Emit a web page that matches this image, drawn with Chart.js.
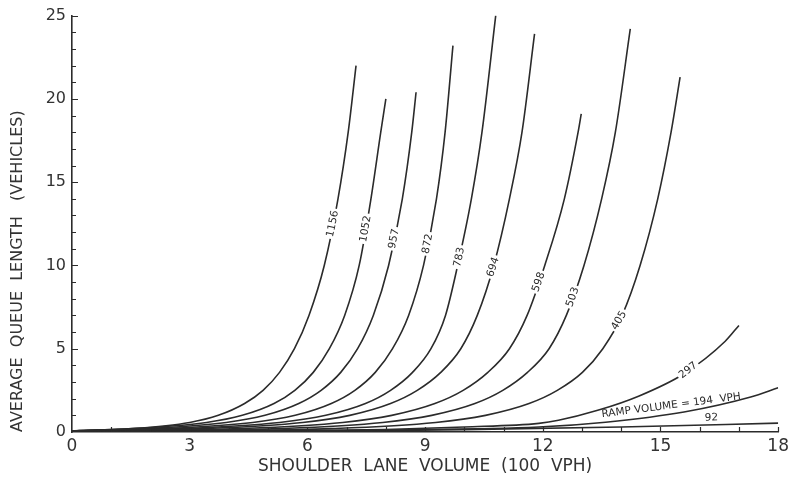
<!DOCTYPE html>
<html>
<head>
<meta charset="utf-8">
<script src="https://cdn.jsdelivr.net/npm/chart.js@4.4.1/dist/chart.umd.min.js"></script>
<style>
  html, body { margin: 0; padding: 0; background: #fff; }
  #wrap { width: 793px; height: 484px; }
</style>
</head>
<body>
<div id="wrap"><canvas id="queueChart" width="793" height="484"></canvas></div>
<script>
// shoulder lane volume (100 vph) vs average queue length (vehicles), one curve per ramp volume
const xTicks = [0, 3, 6, 9, 12, 15, 18];
const yTicks = [0, 5, 10, 15, 20, 25];
const rampVolumes = ['1156', '1052', '957', '872', '783', '694', '598', '503', '405', '297', '194', '92'];

// [shoulder lane volume, queue length]
const q1156 = [[0,0.07],[0.2,0.08],[1.55,0.2],[3.0,0.57],[3.73,1.0],[4.4,1.71],[4.87,2.5],[5.29,3.58],[5.67,5],[6.04,7],[6.43,10],[6.78,14],[7.04,18],[7.24,22]];
const q1052 = [[0,0.06],[1.54,0.2],[3.43,0.57],[4.34,1.0],[5.15,1.71],[5.68,2.5],[6.15,3.58],[6.56,5],[6.95,7],[7.32,10],[7.62,14],[7.87,18],[8.0,20]];
const q957  = [[0,0.06],[1.86,0.2],[3.93,0.57],[4.92,1.0],[5.78,1.71],[6.35,2.5],[6.85,3.58],[7.28,5],[7.68,7],[8.07,10],[8.42,14],[8.66,18],[8.77,20.4]];
const q872  = [[0,0.06],[2.31,0.2],[4.61,0.57],[5.69,1.0],[6.61,1.71],[7.21,2.5],[7.73,3.58],[8.17,5],[8.58,7],[8.96,10],[9.29,14],[9.51,18],[9.71,23.2]];
const q783  = [[0,0.05],[0.18,0.08],[2.76,0.2],[5.29,0.57],[6.47,1.0],[7.48,1.71],[8.12,2.5],[8.68,3.58],[9.15,5],[9.52,7],[9.83,10],[10.18,14],[10.45,18],[10.8,25]];
const q694  = [[0,0.05],[0.81,0.08],[3.34,0.2],[5.88,0.57],[7.08,1.0],[8.12,1.71],[8.8,2.5],[9.4,3.58],[9.91,5],[10.33,7],[10.75,10],[11.15,14],[11.47,18],[11.79,23.9]];
const q598  = [[0,0.04],[1.69,0.08],[4.28,0.2],[6.9,0.57],[8.15,1.0],[9.25,1.71],[9.97,2.5],[10.6,3.58],[11.15,5],[11.6,7],[12.05,10],[12.55,14],[12.9,18],[12.98,19.1]];
const q503  = [[0,0.03],[2.7,0.08],[5.3,0.2],[7.92,0.57],[9.17,1.0],[10.27,1.71],[10.98,2.5],[11.61,3.58],[12.16,5],[12.6,7],[13.05,10],[13.5,14],[13.85,18],[14.23,24.2]];
const q405  = [[0,0.02],[0.8,0.03],[3.96,0.08],[6.61,0.2],[9.27,0.57],[10.54,1.0],[11.65,1.71],[12.37,2.5],[13.01,3.58],[13.53,5],[14.02,7],[14.48,10],[14.93,14],[15.27,18],[15.5,21.3]];
const q297  = [[0,0.01],[5,0.05],[8,0.15],[10,0.3],[11.9,0.52],[12.4,0.7],[13.4,1.3],[14.44,2.15],[15.6,3.5],[16.65,5.45],[17.0,6.4]];
const q194  = [[0,0.01],[4,0.03],[8,0.12],[11.9,0.3],[13.6,0.59],[15.6,1.2],[17.3,2.1],[18,2.65]];
const q92   = [[0,0],[6,0.04],[10,0.14],[14,0.3],[18,0.53]];

const series = [q1156, q1052, q957, q872, q783, q694, q598, q503, q405, q297, q194, q92];

// curve labels: anchored on the curve at a y value (or x value), rotated along it
const curveLabels = [
  { text: '1156', series: 0, y: 12.5 },
  { text: '1052', series: 1, y: 12.2 },
  { text: '957', series: 2, y: 11.6 },
  { text: '872', series: 3, y: 11.3 },
  { text: '783', series: 4, y: 10.5 },
  { text: '694', series: 5, y: 9.9 },
  { text: '598', series: 6, y: 9.0 },
  { text: '503', series: 7, y: 8.1 },
  { text: '405', series: 8, y: 6.7 },
  { text: '297', series: 9, y: 3.7 },
  { text: 'RAMP VOLUME = 194  VPH', series: 10, x: 15.3, lift: 8 },
  { text: '92', series: 11, x: 16.3, lift: 7 },
];

const INK = '#2b2b2b';
const FONT = '"DejaVu Sans", "Liberation Sans", sans-serif';

const curveLabelPlugin = {
  id: 'curveLabels',
  afterDatasetsDraw(chart) {
    const { ctx, scales: { x, y } } = chart;
    ctx.font = '10.5px ' + FONT;
    ctx.textAlign = 'center';
    ctx.textBaseline = 'middle';
    curveLabels.forEach(l => {
      const pts = series[l.series];
      const byY = l.y !== undefined;
      const k = byY ? 1 : 0;
      const target = byY ? l.y : l.x;
      let i = 0;
      while (i < pts.length - 2 && pts[i + 1][k] < target) i++;
      const [x0, y0] = pts[i];
      const [x1, y1] = pts[i + 1];
      const t = (target - pts[i][k]) / (pts[i + 1][k] - pts[i][k]);
      const px0 = x.getPixelForValue(x0), py0 = y.getPixelForValue(y0);
      const px1 = x.getPixelForValue(x1), py1 = y.getPixelForValue(y1);
      const px = px0 + t * (px1 - px0);
      const py = py0 + t * (py1 - py0);
      const ang = Math.atan2(py1 - py0, px1 - px0);
      const w = ctx.measureText(l.text).width;
      ctx.save();
      ctx.translate(px, py);
      ctx.rotate(ang);
      if (!l.lift) {
        ctx.fillStyle = '#fff';
        ctx.fillRect(-w / 2 - 2, -5, w + 4, 10);
      }
      ctx.fillStyle = INK;
      ctx.fillText(l.text, 0, -(l.lift || 0));
      ctx.restore();
    });
  }
};

// small tick marks pointing into the plot, one per unit
const innerTicksPlugin = {
  id: 'innerTicks',
  afterDraw(chart) {
    const { ctx, scales: { x, y } } = chart;
    ctx.save();
    ctx.strokeStyle = INK;
    ctx.lineWidth = 1.2;
    ctx.beginPath();
    for (let v = 1; v <= x.max; v++) {
      const px = Math.round(x.getPixelForValue(v)) + 0.5;
      ctx.moveTo(px, y.bottom);
      ctx.lineTo(px, y.bottom - 5);
    }
    for (let v = 1; v <= y.max; v++) {
      const py = Math.round(y.getPixelForValue(v)) + 0.5;
      ctx.moveTo(x.left, py);
      ctx.lineTo(x.left + (v % 5 === 0 ? 6 : 4), py);
    }
    ctx.stroke();
    ctx.restore();
  }
};

new Chart(document.getElementById('queueChart'), {
  type: 'line',
  data: {
    datasets: series.map((pts, i) => ({
      label: rampVolumes[i],
      data: pts.map(([vx, vy]) => ({ x: vx, y: vy })),
      borderColor: INK,
      borderWidth: 1.6,
      pointRadius: 0,
      fill: false,
      cubicInterpolationMode: 'monotone',
    })),
  },
  options: {
    responsive: false,
    animation: false,
    devicePixelRatio: 1,
    layout: { padding: { top: 15, right: 13, left: 0, bottom: 0 } },
    plugins: { legend: { display: false }, tooltip: { enabled: false } },
    scales: {
      x: {
        type: 'linear',
        min: 0,
        max: 18,
        afterBuildTicks: s => { s.ticks = xTicks.map(v => ({ value: v })); },
        afterFit: s => { s.height = 52; },
        grid: { display: false, drawTicks: false },
        border: { display: true, color: INK, width: 1.6 },
        ticks: { color: '#333', font: { family: FONT, size: 17 }, padding: 4, maxRotation: 0 },
        title: {
          display: true,
          text: 'SHOULDER  LANE  VOLUME  (100  VPH)',
          color: '#333',
          font: { family: FONT, size: 17 },
          padding: { top: 0, bottom: 7 },
        },
      },
      y: {
        type: 'linear',
        min: 0,
        max: 25,
        afterBuildTicks: s => { s.ticks = yTicks.map(v => ({ value: v })); },
        afterFit: s => { s.width = 72; },
        grid: { display: false, drawTicks: false },
        border: { display: true, color: INK, width: 1.6 },
        ticks: { color: '#333', font: { family: FONT, size: 16 }, padding: 6 },
        title: {
          display: true,
          text: 'AVERAGE  QUEUE  LENGTH   (VEHICLES)',
          align: 'start',
          color: '#333',
          font: { family: FONT, size: 16 },
          padding: { top: 8, bottom: 0 },
        },
      },
    },
  },
  plugins: [curveLabelPlugin, innerTicksPlugin],
});
</script>
</body>
</html>
